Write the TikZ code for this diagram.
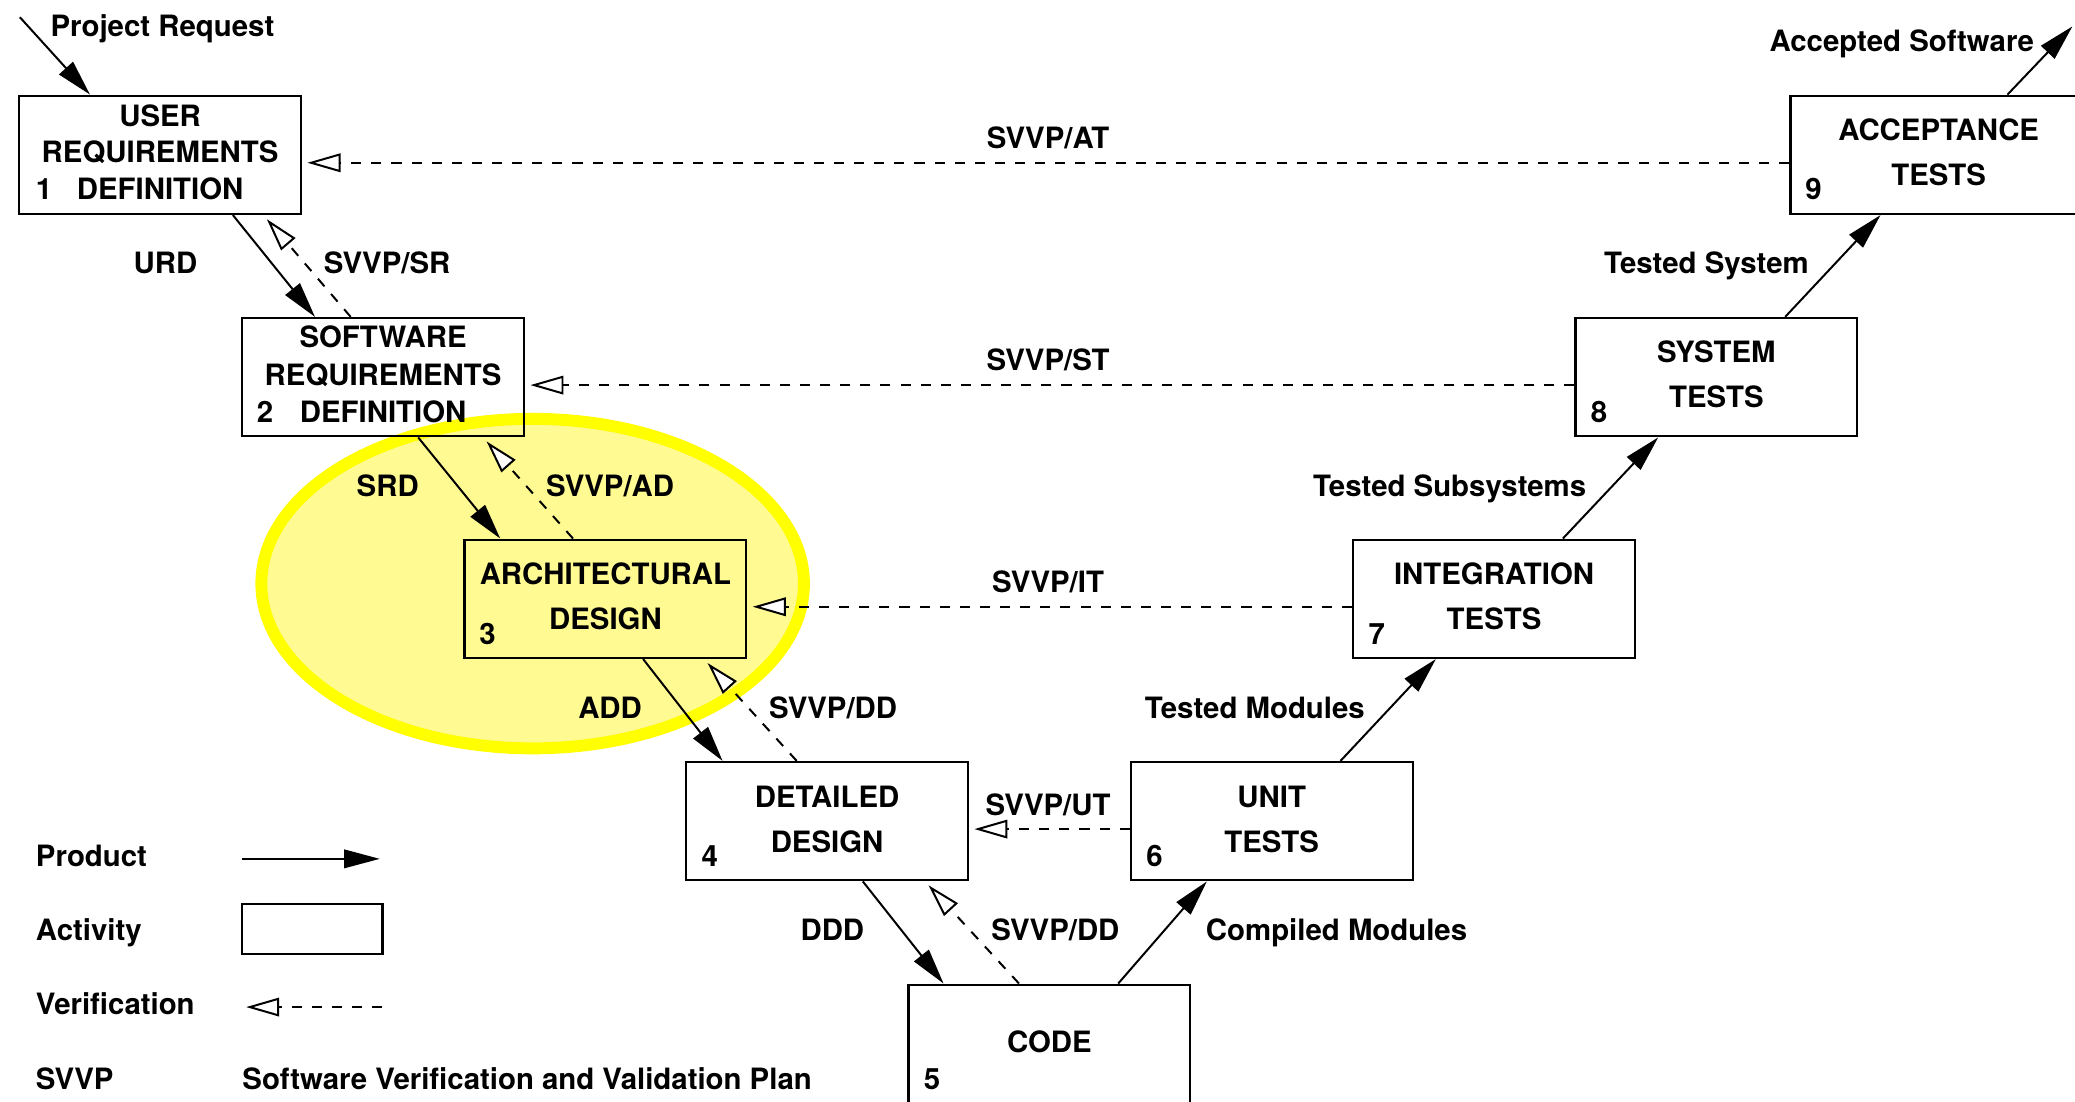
\documentclass[tikz,border=0pt]{standalone}
\usepackage{fontspec}
\setmainfont{TeX Gyre Heros}
\usetikzlibrary{arrows.meta}
\definecolor{hiring}{RGB}{255,255,0}
\definecolor{hifill}{RGB}{255,250,145}

\begin{document}
\begin{tikzpicture}[x=1pt,y=-1pt,
  every node/.style={font=\fontsize{22.2pt}{27pt}\selectfont\bfseries},
  actbox/.style={draw, line width=1.6pt, minimum width=213pt, minimum height=89.5pt, inner sep=0pt},
  txt/.style={inner sep=0pt, text height=15.9pt, text depth=0pt},
  ltxt/.style={txt, anchor=west},
  prod/.style={line width=1.5pt, -{Triangle[length=27pt,width=14pt]}},
  verif/.style={line width=1.5pt, dash pattern=on 7.6pt off 7.6pt,
    -{Triangle[open,length=25pt,width=14pt,fill=white,line width=1.5pt]}, shorten >=4pt},
]
\useasboundingbox (0,0) rectangle (1568,832);

% highlighted phase
\draw[hiring, line width=9pt, fill=hifill] (402.5,441) ellipse [x radius=205, y radius=124.5];

% activities
\node[actbox] (b1) at (121,117) {};
\node[actbox] (b2) at (289.5,285) {};
\node[actbox] (b3) at (457.5,452.5) {};
\node[actbox] (b4) at (625,620.5) {};
\node[actbox, minimum height=92pt] (b5) at (793,790) {};
\node[actbox] (b6) at (961,620.5) {};
\node[actbox] (b7) at (1129,452.5) {};
\node[actbox] (b8) at (1297,285) {};
\node[actbox, minimum width=227pt] (b9) at (1466.5,117) {};

% activity titles
\node[txt] (t1a) at (121,88) {USER};
\node[txt] (t1b) at (121,115) {REQUIREMENTS};
\node[txt] (t1c) at (121,143) {DEFINITION};
\node[ltxt] (n1) at (27,143) {1};
\node[txt] (t2a) at (289.5,255) {SOFTWARE};
\node[txt] (t2b) at (289.5,283) {REQUIREMENTS};
\node[txt] (t2c) at (289.5,311) {DEFINITION};
\node[ltxt] (n2) at (194,311) {2};
\node[txt] (t3a) at (457.5,434) {ARCHITECTURAL};
\node[txt] (t3b) at (457.5,468) {DESIGN};
\node[ltxt] (n3) at (362,479) {3};
\node[txt] (t4a) at (625,602) {DETAILED};
\node[txt] (t4b) at (625,636) {DESIGN};
\node[ltxt] (n4) at (530,647) {4};
\node[txt] (t5a) at (793,787) {CODE};
\node[ltxt] (n5) at (698,815) {5};
\node[txt] (t6a) at (961,602) {UNIT};
\node[txt] (t6b) at (961,636) {TESTS};
\node[ltxt] (n6) at (866,647) {6};
\node[txt] (t7a) at (1129,434) {INTEGRATION};
\node[txt] (t7b) at (1129,468) {TESTS};
\node[ltxt] (n7) at (1034,479) {7};
\node[txt] (t8a) at (1297,266) {SYSTEM};
\node[txt] (t8b) at (1297,300) {TESTS};
\node[ltxt] (n8) at (1202,311) {8};
\node[txt] (t9a) at (1465,98) {ACCEPTANCE};
\node[txt] (t9b) at (1465,132) {TESTS};
\node[ltxt] (n9) at (1364,143) {9};

% products
\coordinate (pin) at (15,13);
\coordinate (pout) at (1566,20);
\draw[prod] (pin) -- ([xshift=-53pt]b1.north);
\draw[prod] ([xshift=55pt]b1.south) -- ([xshift=-51.5pt]b2.north);
\draw[prod] ([xshift=26.5pt]b2.south) -- ([xshift=-79.5pt]b3.north);
\draw[prod] ([xshift=28.5pt]b3.south) -- ([xshift=-79pt]b4.north);
\draw[prod] ([xshift=27pt]b4.south) -- ([xshift=-80pt]b5.north);
\draw[prod] ([xshift=52pt]b5.north) -- ([xshift=-49pt]b6.south);
\draw[prod] ([xshift=52pt]b6.north) -- ([xshift=-44pt]b7.south);
\draw[prod] ([xshift=52pt]b7.north) -- ([xshift=-44pt]b8.south);
\draw[prod] ([xshift=52pt]b8.north) -- ([xshift=-45.5pt]b9.south);
\draw[prod] ([xshift=50.5pt]b9.north) -- (pout);

% verification
\draw[verif] ([xshift=-24.5pt]b2.north) -- ([xshift=78pt]b1.south);
\draw[verif] ([xshift=-24.5pt]b3.north) -- ([xshift=75.5pt]b2.south);
\draw[verif] ([xshift=-23pt]b4.north) -- ([xshift=74.5pt]b3.south);
\draw[verif] ([xshift=-23pt]b5.north) -- ([xshift=74pt]b4.south);
\draw[verif] ([yshift=-6pt]b6.west) -- ([yshift=-6pt]b4.east);
\draw[verif] ([yshift=-6pt]b7.west) -- ([yshift=-6pt]b3.east);
\draw[verif] ([yshift=-6pt]b8.west) -- ([yshift=-6pt]b2.east);
\draw[verif] ([yshift=-6pt]b9.west) -- ([yshift=-6pt]b1.east);

% flow labels
\node[ltxt] (lpr) at (38,20) {Project Request};
\node[ltxt] (las) at (1337,31) {Accepted Software};
\node[txt] (lurd) at (125,199) {URD};
\node[txt] (lsr) at (292.5,199) {SVVP/SR};
\node[txt] (lsrd) at (293,367) {SRD};
\node[txt] (lad) at (461,367) {SVVP/AD};
\node[txt] (ladd) at (461,535) {ADD};
\node[txt] (ldd1) at (629.5,535) {SVVP/DD};
\node[txt] (lddd) at (629,703) {DDD};
\node[txt] (ldd2) at (797.5,703) {SVVP/DD};
\node[ltxt] (lcm) at (911,703) {Compiled Modules};
\node[ltxt] (ltm) at (865,535) {Tested Modules};
\node[ltxt] (ltss) at (992,367) {Tested Subsystems};
\node[ltxt] (lts) at (1212,199) {Tested System};
\node[txt] (lut) at (792,608) {SVVP/UT};
\node[txt] (lit) at (792,440) {SVVP/IT};
\node[txt] (lst) at (792,272) {SVVP/ST};
\node[txt] (lat) at (792,104) {SVVP/AT};

% legend
\node[ltxt] (kprod) at (27,647) {Product};
\coordinate (kp1) at (183,649);
\coordinate (kp2) at (287,649);
\draw[prod] (kp1) -- (kp2);
\node[ltxt] (kact) at (27,703) {Activity};
\node[draw, line width=1.6pt, minimum width=106pt, minimum height=38pt, inner sep=0pt] (kbox) at (236,702) {};
\node[ltxt] (kver) at (27,759) {Verification};
\coordinate (kv1) at (289,761);
\coordinate (kv2) at (186,761);
\draw[verif, shorten >=0pt] (kv1) -- (kv2);
\node[ltxt] (kabbr) at (27,815) {SVVP};
\node[ltxt] (kdef) at (183,815) {Software Verification and Validation Plan};
\end{tikzpicture}
\end{document}
